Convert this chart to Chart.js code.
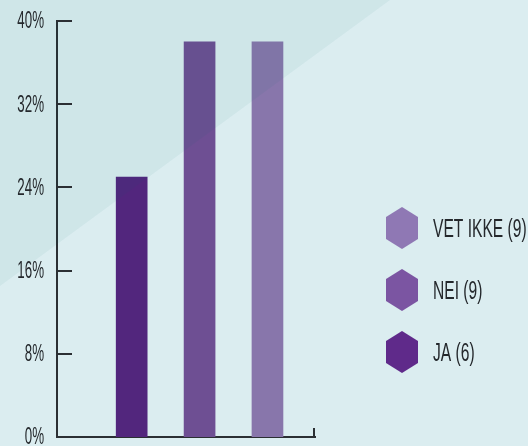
<!DOCTYPE html>
<html>
<head>
<meta charset="utf-8">
<script src="https://cdn.jsdelivr.net/npm/chart.js@4.4.1/dist/chart.umd.min.js"></script>
<style>
  html, body { margin: 0; padding: 0; background: #dbedf0; }
  #wrap { width: 528px; height: 446px; }
</style>
</head>
<body>
<div id="wrap"><canvas id="c" width="528" height="446"></canvas></div>
<script>
// ---- data ----
const categories = ["JA", "NEI", "VET IKKE"];
const counts = [6, 9, 9];
const percentValues = [25, 38, 38];
const yTickValues = [0, 8, 16, 24, 32, 40];
const barColors = ["#52267d", "#6e4f93", "#8876ab"];
const legendColors = ["#5f2a8a", "#7b55a2", "#8f78b4"];

const FONT = '"Liberation Sans Narrow", "Liberation Sans", sans-serif';
const INK = '#24282c';
const AXIS = '#2b2f33';

const bgPlugin = {
  id: 'bg',
  beforeDraw(chart) {
    const ctx = chart.ctx;
    ctx.save();
    ctx.fillStyle = '#dbedf0';
    ctx.fillRect(0, 0, chart.width, chart.height);
    ctx.restore();
  },
  afterDatasetsDraw(chart) {
    const ctx = chart.ctx;
    ctx.save();
    ctx.fillStyle = 'rgba(0,109,113,0.055)';
    ctx.beginPath();
    ctx.moveTo(0, 0);
    ctx.lineTo(390, 0);
    ctx.lineTo(0, 286);
    ctx.closePath();
    ctx.fill();
    ctx.restore();
  }
};

const axisPlugin = {
  id: 'axisDeco',
  afterDraw(chart) {
    const ctx = chart.ctx;
    const ys = chart.scales.y;
    const area = chart.chartArea;
    ctx.save();
    ctx.strokeStyle = AXIS;
    ctx.lineWidth = 2;
    ys.ticks.forEach(t => {
      const py = Math.round(ys.getPixelForValue(t.value));
      ctx.beginPath();
      ctx.moveTo(area.left - 1, py);
      ctx.lineTo(area.left + 15, py);
      ctx.stroke();
    });
    ctx.beginPath();
    ctx.moveTo(area.right - 1, area.bottom + 1);
    ctx.lineTo(area.right - 1, area.bottom - 9);
    ctx.stroke();
    ctx.fillStyle = INK;
    ctx.font = '23px ' + FONT;
    ctx.textAlign = 'right';
    ctx.textBaseline = 'middle';
    ys.ticks.forEach(t => {
      const py = ys.getPixelForValue(t.value);
      ctx.save();
      ctx.translate(44, py + 1);
      ctx.scale(0.58, 1);
      ctx.fillText(t.value + '%', 0, 0);
      ctx.restore();
    });
    ctx.restore();
  }
};

const legendPlugin = {
  id: 'hexLegend',
  afterDraw(chart) {
    const ctx = chart.ctx;
    const cx = 402, startY = 228, gap = 62;
    ctx.save();
    for (let k = 0; k < categories.length; k++) {
      const i = categories.length - 1 - k;
      const cy = startY + k * gap;
      ctx.fillStyle = legendColors[i];
      ctx.beginPath();
      ctx.moveTo(cx, cy - 21);
      ctx.lineTo(cx + 16, cy - 11);
      ctx.lineTo(cx + 16, cy + 11);
      ctx.lineTo(cx, cy + 21);
      ctx.lineTo(cx - 16, cy + 11);
      ctx.lineTo(cx - 16, cy - 11);
      ctx.closePath();
      ctx.fill();
      ctx.fillStyle = INK;
      ctx.font = '26px ' + FONT;
      ctx.textAlign = 'left';
      ctx.textBaseline = 'middle';
      ctx.save();
      ctx.translate(433, cy + 2);
      ctx.scale(0.6, 1);
      ctx.fillText(categories[i] + ' (' + counts[i] + ')', 0, 0);
      ctx.restore();
    }
    ctx.restore();
  }
};

new Chart(document.getElementById('c'), {
  type: 'bar',
  data: {
    datasets: [{
      label: 'Svar',
      data: percentValues.map((v, i) => ({ x: i + 1, y: v })),
      backgroundColor: barColors,
      borderWidth: 0,
      barThickness: 31
    }]
  },
  options: {
    responsive: false,
    animation: false,
    devicePixelRatio: 1,
    layout: { padding: { top: 21, right: 213, left: 0, bottom: 0 } },
    plugins: { legend: { display: false }, tooltip: { enabled: false } },
    scales: {
      x: {
        type: 'linear',
        offset: false,
        min: -0.1,
        max: 3.7,
        ticks: { display: false },
        grid: { display: false, drawTicks: false, offset: false },
        border: { display: true, color: AXIS, width: 2 },
        afterFit(s) { s.height = 9; }
      },
      y: {
        min: 0,
        max: 40,
        afterBuildTicks(s) { s.ticks = yTickValues.map(v => ({ value: v })); },
        ticks: { display: false },
        grid: { display: false, drawTicks: false },
        border: { display: true, color: AXIS, width: 2 },
        afterFit(s) { s.width = 57; }
      }
    }
  },
  plugins: [bgPlugin, axisPlugin, legendPlugin]
});
</script>
</body>
</html>
